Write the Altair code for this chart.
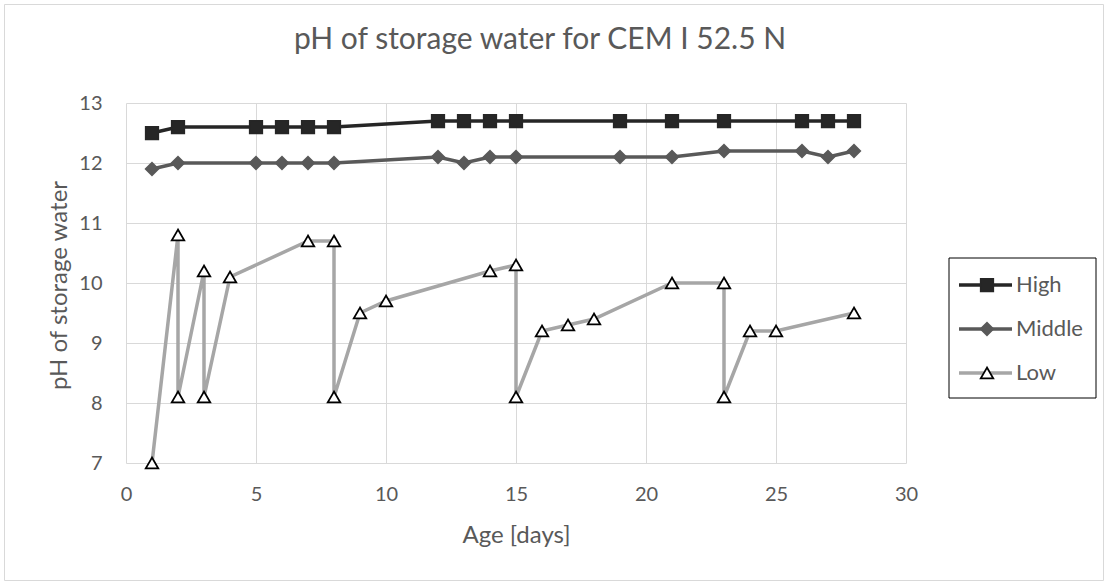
import altair as alt
import pandas as pd

# --- data -------------------------------------------------------------
series_names = ["High", "Middle", "Low"]

high_days = [1, 2, 5, 6, 7, 8, 12, 13, 14, 15, 19, 21, 23, 26, 27, 28]
high_ph = [12.5, 12.6, 12.6, 12.6, 12.6, 12.6, 12.7, 12.7, 12.7, 12.7,
           12.7, 12.7, 12.7, 12.7, 12.7, 12.7]

middle_days = [1, 2, 5, 6, 7, 8, 12, 13, 14, 15, 19, 21, 23, 26, 27, 28]
middle_ph = [11.9, 12.0, 12.0, 12.0, 12.0, 12.0, 12.1, 12.0, 12.1, 12.1,
             12.1, 12.1, 12.2, 12.2, 12.1, 12.2]

low_days = [1, 2, 2, 3, 3, 4, 7, 8, 8, 9, 10, 14, 15, 15, 16, 17, 18,
            21, 23, 23, 24, 25, 28]
low_ph = [7.0, 10.8, 8.1, 10.2, 8.1, 10.1, 10.7, 10.7, 8.1, 9.5, 9.7,
          10.2, 10.3, 8.1, 9.2, 9.3, 9.4, 10.0, 10.0, 8.1, 9.2, 9.2, 9.5]

x_ticks = [0, 5, 10, 15, 20, 25, 30]
y_ticks = [7, 8, 9, 10, 11, 12, 13]

title_text = "pH of storage water for CEM I 52.5 N"
x_title = "Age [days]"
y_title = "pH of storage water"

# long-form table; idx keeps the measurement order (water changes
# produce repeated days with a drop)
rows = []
for name, days, vals in [("High", high_days, high_ph),
                         ("Middle", middle_days, middle_ph),
                         ("Low", low_days, low_ph)]:
    for i, (d, v) in enumerate(zip(days, vals)):
        rows.append({"series": name, "day": d, "ph": v, "idx": i})
df = pd.DataFrame(rows)
legend_df = pd.DataFrame({"series": series_names})
frame_df = pd.DataFrame({"k": [0]})

# --- styling ----------------------------------------------------------
FONT = "Lato"
TEXT = "#595959"
GRID = "#d9d9d9"
W, H = 780, 360
PAD = {"left": 126, "top": 103, "right": 198, "bottom": 118}

line_colors = ["#262626", "#595959", "#a6a6a6"]
fill_colors = ["#262626", "#595959", "#ffffff"]
stroke_colors = ["#262626", "#595959", "#000000"]
shapes = ["square", "diamond", "triangle-up"]

color_enc = alt.Color("series:N", scale=alt.Scale(domain=series_names, range=line_colors), legend=None)
fill_enc = alt.Fill("series:N", scale=alt.Scale(domain=series_names, range=fill_colors), legend=None)
stroke_enc = alt.Stroke("series:N", scale=alt.Scale(domain=series_names, range=stroke_colors), legend=None)
shape_enc = alt.Shape("series:N", scale=alt.Scale(domain=series_names, range=shapes), legend=None)

x_enc = alt.X(
    "day:Q",
    scale=alt.Scale(domain=[0, 30], nice=False, zero=False),
    axis=alt.Axis(values=x_ticks, title=x_title, grid=True, gridColor=GRID,
                  domain=False, ticks=False, tickSize=0, labelPadding=31,
                  labelFlush=False, labelBaseline="middle", labelFontSize=20,
                  labelColor=TEXT, labelFont=FONT, titleFont=FONT,
                  titleFontSize=24, titleFontWeight="normal", titleColor=TEXT,
                  titleX=W / 2, titleY=72, titleBaseline="middle"),
)
y_enc = alt.Y(
    "ph:Q",
    scale=alt.Scale(domain=[7, 13], nice=False, zero=False),
    axis=alt.Axis(values=y_ticks, title=y_title, grid=True, gridColor=GRID,
                  domain=False, ticks=False, tickSize=0, labelPadding=24,
                  labelFlush=False, labelFontSize=20, labelColor=TEXT,
                  labelFont=FONT, titleFont=FONT, titleFontSize=24,
                  titleFontWeight="normal", titleColor=TEXT, titleX=-67,
                  titleY=H / 2 + 2, titleBaseline="middle", titleAngle=-90),
)

base = alt.Chart(df)
lines = base.mark_line(strokeWidth=3.5).encode(
    x=x_enc, y=y_enc, color=color_enc, order=alt.Order("idx:Q"))
points = base.mark_point(size=155, strokeWidth=1.8, opacity=1).encode(
    x=x_enc, y=y_enc, shape=shape_enc, fill=fill_enc, stroke=stroke_enc)

main = alt.layer(lines, points)

# --- legend box on the right -------------------------------------------
leg_y = alt.Y("series:N",
              scale=alt.Scale(type="point", domain=series_names,
                              range=[182, 270], padding=0),
              axis=None)
leg_box = alt.Chart(frame_df).mark_rect(
    fill="white", stroke="black", strokeWidth=1).encode(
    x=alt.value(823), x2=alt.value(970), y=alt.value(155), y2=alt.value(295))
leg_lines = alt.Chart(legend_df).mark_rule(strokeWidth=3.5).encode(
    x=alt.value(833), x2=alt.value(886), y=leg_y, color=color_enc)
leg_points = alt.Chart(legend_df).mark_point(size=155, strokeWidth=1.8, opacity=1).encode(
    x=alt.value(861), y=leg_y, shape=shape_enc, fill=fill_enc, stroke=stroke_enc)
leg_text = alt.Chart(legend_df).mark_text(
    align="left", baseline="middle", font=FONT, fontSize=22, color=TEXT).encode(
    x=alt.value(890), y=leg_y, text="series:N")
legend = alt.layer(leg_box, leg_lines, leg_points, leg_text)

# --- chart title and outer frame ----------------------------------------
title = alt.Chart(frame_df).mark_text(
    align="center", baseline="middle", font=FONT, fontSize=30, color=TEXT,
    text=title_text).encode(x=alt.value(414), y=alt.value(-63))
outer = alt.Chart(frame_df).mark_rect(
    fill=None, stroke=GRID, strokeWidth=1).encode(
    x=alt.value(-121.5), x2=alt.value(977.5), y=alt.value(-98.5), y2=alt.value(477.5))

chart = alt.layer(outer, main, legend, title).resolve_scale(
    y="independent"
).properties(
    width=W, height=H, padding=PAD,
    autosize=alt.AutoSizeParams(type="none"),
    background="white",
).configure_view(stroke=None)

chart.save("out.html", embed_options={"renderer": "svg", "actions": False})
